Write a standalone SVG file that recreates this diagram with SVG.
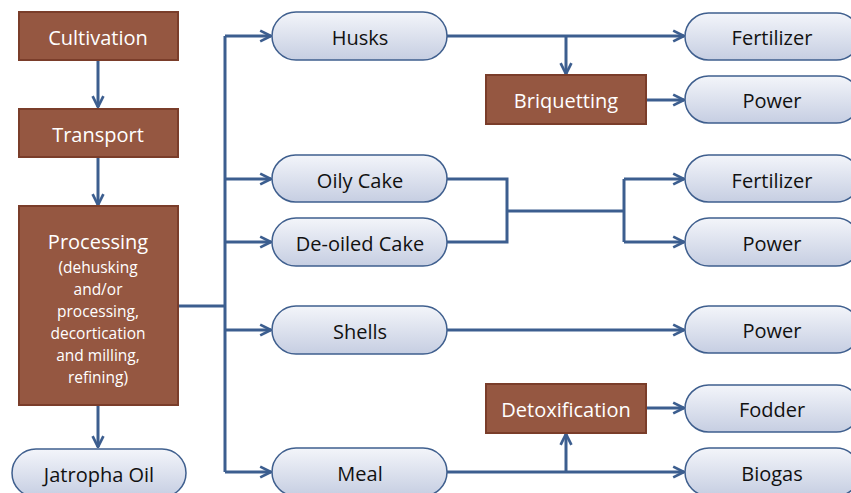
<svg xmlns="http://www.w3.org/2000/svg" width="851" height="493" viewBox="0 0 851 493">
  <style>
    .step { fill: #955741; stroke: #7a3d2a; stroke-width: 2; }
    .step-text { fill: #ffffff; font-family: "Open Sans", "Liberation Sans", sans-serif; font-size: 20px; text-anchor: middle; }
    .step-small { fill: #ffffff; font-family: "Open Sans", "Liberation Sans", sans-serif; font-size: 15.5px; text-anchor: middle; }
    .product { fill: url(#pillFill); stroke: #3f5f8e; stroke-width: 1.5; }
    .product-text { fill: #111111; font-family: "Open Sans", "Liberation Sans", sans-serif; font-size: 20px; text-anchor: middle; }
    .link { fill: none; stroke: #3c5e8f; stroke-width: 3; }
    .arrow { marker-end: url(#head); }
  </style>
  <defs>
    <linearGradient id="pillFill" x1="0" y1="0" x2="0" y2="1">
      <stop offset="0" stop-color="#f3f5fa"/>
      <stop offset="1" stop-color="#c6cee2"/>
    </linearGradient>
    <marker id="head" viewBox="0 0 10 10" refX="9" refY="5" markerWidth="4.5" markerHeight="4.5" markerUnits="strokeWidth" orient="auto">
      <path d="M1,1 L9,5 L1,9" fill="none" stroke="#3c5e8f" stroke-width="2"/>
    </marker>
  </defs>

  <g id="connectors">
    <!-- process chain -->
    <path class="link arrow" d="M98,61 V107"/>
    <path class="link arrow" d="M98,157 V205"/>
    <path class="link arrow" d="M98,405 V447"/>
    <!-- processing trunk -->
    <path class="link" d="M179,306 H225"/>
    <path class="link" d="M225,36 V472"/>
    <path class="link arrow" d="M225,36 H271"/>
    <path class="link arrow" d="M225,179 H271"/>
    <path class="link arrow" d="M225,242 H271"/>
    <path class="link arrow" d="M225,330 H271"/>
    <path class="link arrow" d="M225,472 H271"/>
    <!-- husks -->
    <path class="link arrow" d="M447,36 H684"/>
    <path class="link arrow" d="M566,36 V74"/>
    <path class="link arrow" d="M646,100 H684"/>
    <!-- cakes -->
    <path class="link" d="M447,179 H507 V242 H447"/>
    <path class="link" d="M507,211 H624"/>
    <path class="link" d="M624,179 V242"/>
    <path class="link arrow" d="M624,179 H684"/>
    <path class="link arrow" d="M624,242 H684"/>
    <!-- shells -->
    <path class="link arrow" d="M447,330 H684"/>
    <!-- meal -->
    <path class="link arrow" d="M447,472 H684"/>
    <path class="link arrow" d="M566,472 V434"/>
    <path class="link arrow" d="M646,408 H684"/>
  </g>

  <g id="cultivation">
    <rect class="step" x="19" y="12" width="159" height="48"/>
    <text class="step-text" x="98" y="45">Cultivation</text>
  </g>
  <g id="transport">
    <rect class="step" x="19" y="109" width="159" height="48"/>
    <text class="step-text" x="98" y="142">Transport</text>
  </g>
  <g id="processing">
    <rect class="step" x="19" y="206" width="159" height="199"/>
    <text class="step-text" x="98" y="249">Processing</text>
    <text class="step-small" x="98" y="273">(dehusking</text>
    <text class="step-small" x="98" y="295">and/or</text>
    <text class="step-small" x="98" y="317">processing,</text>
    <text class="step-small" x="98" y="339">decortication</text>
    <text class="step-small" x="98" y="361">and milling,</text>
    <text class="step-small" x="98" y="383">refining)</text>
  </g>
  <g id="jatropha-oil">
    <rect class="product" x="12" y="449" width="174" height="48" rx="24"/>
    <text class="product-text" x="99" y="482">Jatropha Oil</text>
  </g>

  <g id="husks">
    <rect class="product" x="272" y="12" width="175" height="48" rx="24"/>
    <text class="product-text" x="360" y="45">Husks</text>
  </g>
  <g id="oily-cake">
    <rect class="product" x="272" y="155" width="175" height="47" rx="23.5"/>
    <text class="product-text" x="360" y="188">Oily Cake</text>
  </g>
  <g id="deoiled-cake">
    <rect class="product" x="272" y="218" width="175" height="48" rx="24"/>
    <text class="product-text" x="360" y="251">De-oiled Cake</text>
  </g>
  <g id="shells">
    <rect class="product" x="272" y="306" width="175" height="48" rx="24"/>
    <text class="product-text" x="360" y="339">Shells</text>
  </g>
  <g id="meal">
    <rect class="product" x="272" y="448" width="175" height="48" rx="24"/>
    <text class="product-text" x="360" y="481">Meal</text>
  </g>

  <g id="briquetting">
    <rect class="step" x="486" y="75" width="160" height="49"/>
    <text class="step-text" x="566" y="108">Briquetting</text>
  </g>
  <g id="detoxification">
    <rect class="step" x="486" y="384" width="160" height="49"/>
    <text class="step-text" x="566" y="417">Detoxification</text>
  </g>

  <g id="fertilizer-1">
    <rect class="product" x="685" y="13" width="175" height="47" rx="23.5"/>
    <text class="product-text" x="772" y="45">Fertilizer</text>
  </g>
  <g id="power-1">
    <rect class="product" x="685" y="76" width="175" height="47" rx="23.5"/>
    <text class="product-text" x="772" y="108">Power</text>
  </g>
  <g id="fertilizer-2">
    <rect class="product" x="685" y="155" width="175" height="47" rx="23.5"/>
    <text class="product-text" x="772" y="188">Fertilizer</text>
  </g>
  <g id="power-2">
    <rect class="product" x="685" y="218" width="175" height="48" rx="24"/>
    <text class="product-text" x="772" y="251">Power</text>
  </g>
  <g id="power-3">
    <rect class="product" x="685" y="306" width="175" height="47" rx="23.5"/>
    <text class="product-text" x="772" y="338">Power</text>
  </g>
  <g id="fodder">
    <rect class="product" x="685" y="385" width="175" height="47" rx="23.5"/>
    <text class="product-text" x="772" y="417">Fodder</text>
  </g>
  <g id="biogas">
    <rect class="product" x="685" y="448" width="175" height="48" rx="24"/>
    <text class="product-text" x="772" y="481">Biogas</text>
  </g>
</svg>
